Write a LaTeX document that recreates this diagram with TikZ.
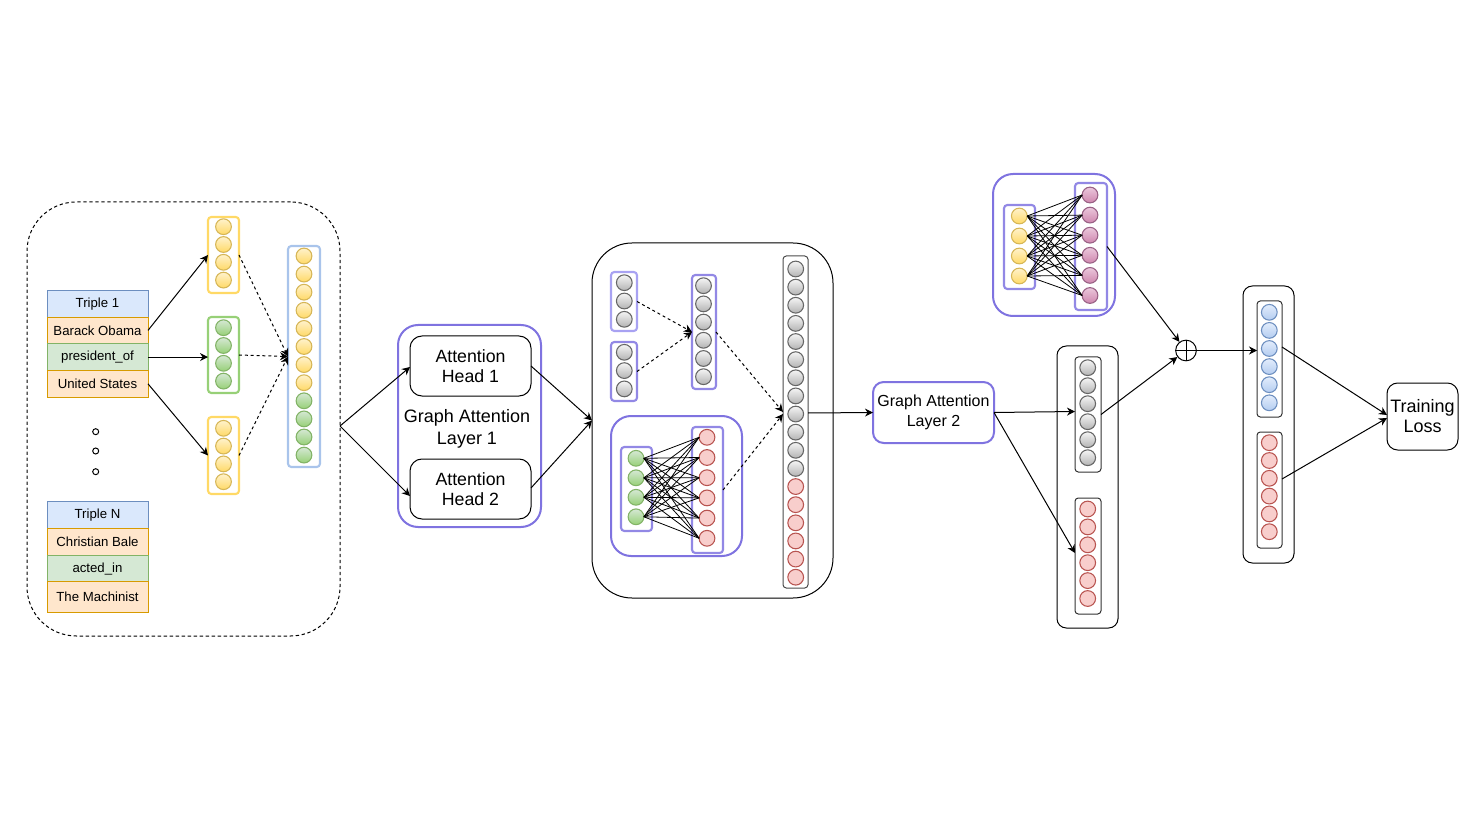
\documentclass[tikz,border=0pt]{standalone}
\usepackage{fontspec}
\setmainfont{Liberation Sans}
\usetikzlibrary{arrows.meta,calc}
\definecolor{tbfill}{HTML}{DAE8FC}\definecolor{tbline}{HTML}{6C8EBF}
\definecolor{tofill}{HTML}{FFE6CC}\definecolor{toline}{HTML}{D79B00}
\definecolor{tgfill}{HTML}{D5E8D4}\definecolor{tgline}{HTML}{82B366}
\definecolor{ylw}{HTML}{FFD966}\definecolor{ylwl}{HTML}{FFF2CC}\definecolor{ylwd}{HTML}{D6B656}
\definecolor{grn}{HTML}{97D077}\definecolor{grnl}{HTML}{D5E8D4}\definecolor{grnd}{HTML}{82B366}
\definecolor{gryl}{HTML}{F5F5F5}\definecolor{gry}{HTML}{B3B3B3}\definecolor{gryd}{HTML}{666666}
\definecolor{redf}{HTML}{F8CECC}\definecolor{redd}{HTML}{B85450}
\definecolor{pnkl}{HTML}{EBC8DC}\definecolor{pnk}{HTML}{CF86AE}\definecolor{pnkd}{HTML}{996185}
\definecolor{blul}{HTML}{E3EDFC}\definecolor{blu}{HTML}{B3CCF0}\definecolor{blud}{HTML}{6C8EBF}
\definecolor{vblue}{HTML}{A9C4EB}
\definecolor{purp}{HTML}{7F73E0}\definecolor{purpl}{HTML}{A8A2F2}
\newcommand\vcol[6]{\foreach \i in {1,...,#4}{\node[#6] (#1\i) at (#2,{#3+(\i-1)*#5}) {};}}
\begin{document}
\begin{tikzpicture}[x=0.75pt,y=-0.75pt,
  sz/.style 2 args={minimum width=#1*0.75pt, minimum height=#2*0.75pt, inner sep=0pt, outer sep=0pt},
  cbase/.style={circle, inner sep=0pt, outer sep=0pt, minimum size=11.8pt, line width=0.8pt},
  ycir/.style={cbase, draw=ylwd, top color=ylwl, bottom color=ylw},
  gcir/.style={cbase, draw=grnd, top color=grnl, bottom color=grn},
  grcir/.style={cbase, draw=gryd, top color=gryl, bottom color=gry},
  rcir/.style={cbase, draw=redd, fill=redf},
  pcir/.style={cbase, draw=pnkd, top color=pnkl, bottom color=pnk},
  bcir/.style={cbase, draw=blud, top color=blul, bottom color=blu},
  trow/.style={draw, line width=0.75pt, sz={101}{26.7}, font=\fontsize{9.9}{12}\selectfont},
  ybox/.style={draw=ylw, line width=1.6pt, rounded corners=2.5pt, fill=white},
  gbox/.style={draw=grn, line width=1.6pt, rounded corners=2.5pt, fill=white},
  bbox/.style={draw=vblue, line width=1.6pt, rounded corners=2.5pt, fill=white},
  pvbox/.style={draw=purp!85, line width=1.6pt, rounded corners=2.5pt, fill=white},
  plbox/.style={draw=purpl, line width=1.6pt, rounded corners=2.5pt, fill=white},
  kbox/.style={draw=black!80, line width=0.75pt, rounded corners=2.5pt, fill=white},
  pround/.style={draw=purp, line width=1.5pt, fill=white},
  kround/.style={draw=black, line width=0.75pt, fill=white},
  arr/.style={line width=0.75pt, -{Stealth[length=6pt,width=6pt]}},
  darr/.style={line width=0.75pt, dash pattern=on 2.2pt off 2.2pt, -{Stealth[length=6pt,width=6pt]}},
  fc/.style={line width=0.6pt}
]
\useasboundingbox (0,0) rectangle (1482,834);

% ---------------- input part ----------------
\node[draw, line width=0.75pt, dash pattern=on 2.5pt off 2pt, rounded corners=37pt, sz={313}{434}] (inbox) at (183.5,419) {};

\node[trow, fill=tbfill, draw=tbline] (t1) at (97.5,303.7) {Triple 1};
\node[trow, fill=tofill, draw=toline] (bo) at (97.5,330.4) {Barack Obama};
\node[trow, fill=tgfill, draw=tgline] (po) at (97.5,357.1) {president\_of};
\node[trow, fill=tofill, draw=toline] (us) at (97.5,383.8) {United States};

\node[trow, fill=tbfill, draw=tbline, sz={101}{26.6}] (tn) at (97.5,515) {Triple N};
\node[trow, fill=tofill, draw=toline, sz={101}{27.4}] (cb) at (97.5,542) {Christian Bale};
\node[trow, fill=tgfill, draw=tgline, sz={101}{26}] (ai) at (97.5,568.7) {acted\_in};
\node[trow, fill=tofill, draw=toline, sz={101}{31}] (tm) at (97.5,597.2) {The Machinist};

\foreach \k/\yy in {1/431.7,2/451,3/471.7}{\node[circle, draw, line width=0.75pt, inner sep=0pt, minimum size=4.5pt] (dot\k) at (95.7,\yy) {};}

\node[ybox, sz={31}{76}] (y1box) at (223.5,255) {};
\vcol{ya}{223.5}{226.7}{4}{17.8}{ycir}
\node[gbox, sz={31}{76}] (gvbox) at (223.5,355) {};
\vcol{ga}{223.5}{327.7}{4}{17.8}{gcir}
\node[ybox, sz={31}{77}] (y2box) at (223.5,455.5) {};
\vcol{yb}{223.5}{428.3}{4}{17.8}{ycir}

\node[bbox, sz={32}{221}] (catbox) at (304,356.5) {};
\foreach \i in {1,...,8}{\node[ycir] (cy\i) at (304,{256+(\i-1)*18.1}) {};}
\foreach \i in {9,...,12}{\node[gcir] (cy\i) at (304,{256+(\i-1)*18.1}) {};}

\draw[arr] (bo.east) -- (y1box.west);
\draw[arr] (po.east) -- (po.east -| gvbox.west);
\draw[arr] (us.east) -- (y2box.west);
\draw[darr] (y1box.east) -- (catbox.west);
\draw[darr] (gvbox.east) -- (catbox.west);
\draw[darr] (y2box.east) -- (catbox.west);

% ---------------- GAT layer 1 ----------------
\node[pround, rounded corners=15pt, sz={143}{202}] (gat1) at (469.5,426) {};
\node[font=\fontsize{13.5}{16.7}\selectfont, align=center] (gat1t) at (467,428.5) {Graph Attention\\Layer 1};
\node[kround, rounded corners=9pt, sz={121}{60}, align=center, font=\fontsize{13.3}{15.5}\selectfont] (ah1) at (470.5,366) {Attention\\Head 1};
\node[kround, rounded corners=9pt, sz={121}{60}, align=center, font=\fontsize{13.3}{15.5}\selectfont] (ah2) at (470.5,489) {Attention\\Head 2};

\coordinate (split) at (340,426);
\draw[arr] (split) -- ($(ah1.west)+(0,1)$);
\draw[arr] (split) -- ($(ah2.west)+(0,7)$);

% ---------------- big box ----------------
\node[kround, rounded corners=30pt, sz={241}{355}] (big) at (712.5,420.5) {};
\draw[arr] ($(ah1.east)+(0,0)$) -- (big.west);
\draw[arr] ($(ah2.east)+(0,-1)$) -- (big.west);

\node[plbox, sz={26}{59}] (va) at (624,301.5) {};
\vcol{gra}{624.3}{282.7}{3}{18.3}{grcir}
\node[pvbox, sz={26}{59}] (vb) at (624,371.5) {};
\vcol{grb}{624.3}{352.3}{3}{18.3}{grcir}
\node[pvbox, sz={24}{114}] (vc) at (704,332) {};
\vcol{grc}{703.5}{285.7}{6}{18.2}{grcir}
\draw[darr] (va.east) -- (vc.west);
\draw[darr] (vb.east) -- (vc.west);

\node[pround, rounded corners=15pt, sz={131}{140}] (inner) at (676.5,486) {};
\node[pvbox, sz={31}{84}] (gv2) at (636.5,489) {};
\vcol{gb}{636}{458.3}{4}{19.5}{gcir}
\node[pvbox, sz={31}{126}] (rv1) at (707.5,490) {};
\vcol{ra}{707}{437.3}{6}{20.2}{rcir}
\foreach \i in {1,...,4}{\foreach \j in {1,...,6}{\draw[fc] (gb\i.east) -- (ra\j.west);}}

\node[kbox, draw=black!70, sz={25}{332}] (cl) at (795.5,422) {};
\foreach \i in {1,...,12}{\node[grcir] (cg\i) at (795.7,{269+(\i-1)*18.13}) {};}
\foreach \i in {13,...,18}{\node[rcir] (cg\i) at (795.7,{269+(\i-1)*18.13}) {};}
\draw[darr] (vc.east) -- ($(cl.west)+(0,-10)$);
\draw[darr] (rv1.east) -- ($(cl.west)+(0,-8)$);

% ---------------- GAT layer 2 ----------------
\node[pround, rounded corners=8pt, sz={121}{61}, align=center, font=\fontsize{12}{14.5}\selectfont] (gat2) at (933.5,412.5) {Graph Attention\\Layer 2};
\draw[arr] ($(cl.east)+(0,-9)$) -- (gat2.west);

\node[pround, rounded corners=15pt, sz={122}{142}] (top) at (1054,245) {};
\node[pvbox, sz={31}{84}] (yv3) at (1019.5,247) {};
\vcol{yc}{1019.3}{216}{4}{20}{ycir}
\node[pvbox, sz={32}{127}] (pv) at (1091,246.5) {};
\vcol{pc}{1090}{195}{6}{20.1}{pcir}
\foreach \i in {1,...,4}{\foreach \j in {1,...,6}{\draw[fc] (yc\i.east) -- (pc\j.west);}}

\node[kround, rounded corners=7pt, sz={61}{282}] (mid) at (1087.5,487) {};
\node[kbox, sz={26}{115}] (grv) at (1088,414.5) {};
\vcol{gd}{1087.7}{367.7}{6}{18}{grcir}
\node[kbox, sz={26}{116}] (rv2) at (1088,556) {};
\vcol{rb}{1087.7}{509}{6}{17.9}{rcir}
\draw[arr] (gat2.east) -- ($(grv.west)+(0,-3)$);
\draw[arr] (gat2.east) -- ($(rv2.west)+(0,-3)$);

\node[circle, draw, line width=0.75pt, minimum size=15.5pt, inner sep=0pt] (op) at (1186,350.5) {};
\draw[line width=0.75pt] (op.north) -- (op.south) (op.west) -- (op.east);
\draw[arr] (pv.east) -- (op);
\draw[arr] (grv.east) -- (op);

% ---------------- right part ----------------
\node[kround, rounded corners=7pt, sz={51}{277}] (rbox) at (1268.5,424.5) {};
\node[kbox, sz={25}{116}] (bv) at (1269.5,359) {};
\vcol{bc}{1269.3}{312.3}{6}{18.1}{bcir}
\node[kbox, sz={25}{116}] (rv3) at (1269.5,490) {};
\vcol{rc}{1269.3}{442.7}{6}{17.8}{rcir}
\draw[arr] (op.east) -- (op.east -| bv.west);

\node[kround, rounded corners=8pt, sz={71}{67}, align=center, font=\fontsize{13.5}{15}\selectfont] (tl) at (1422.5,416.5) {Training\\Loss};
\draw[arr] ($(bv.east)+(0,-12)$) -- ($(tl.west)+(0,-1.5)$);
\draw[arr] ($(rv3.east)+(0,-11)$) -- ($(tl.west)+(0,1.5)$);
\end{tikzpicture}
\end{document}
